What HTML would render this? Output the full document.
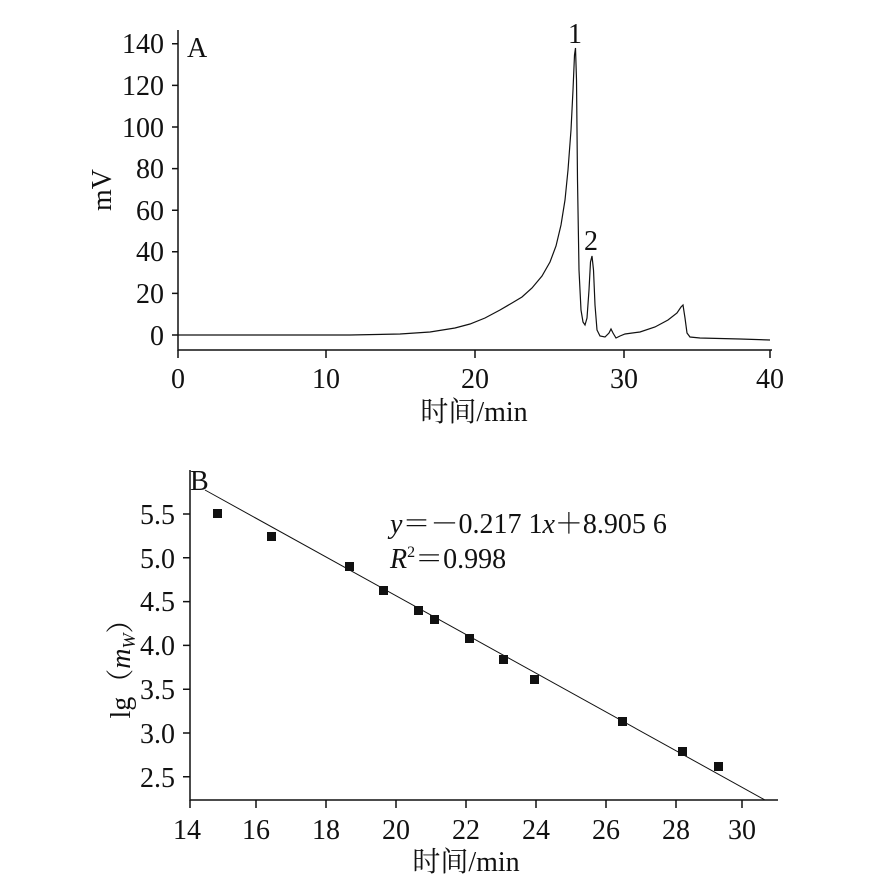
<!DOCTYPE html>
<html><head><meta charset="utf-8"><style>
body{margin:0;background:#fff}
text{font-family:"Liberation Serif","Noto Serif CJK SC",serif;fill:#111}
</style></head><body>
<svg width="882" height="884" xmlns="http://www.w3.org/2000/svg">
<g stroke="#111" stroke-width="1.5" fill="none">
<path d="M178 30V350H772M178 335h-6M178 293.4h-6M178 251.8h-6M178 210.2h-6M178 168.6h-6M178 127h-6M178 85.4h-6M178 43.8h-6"/>
<path d="M178 350v8M326 350v8M475 350v8M624 350v8M770 350v8"/>
<path stroke-width="1.2" d="M178 335L350 335L400 334L430 332L455 328L470 324L485 318L500 310L512 303L522 297L532 288L542 276L550 262L556 246L561 225L565 200L568 170L571 130L573 90L574.5 55L575.5 48L576.5 80L577.5 180L579 270L581 310L583 322L585 325L587 318L589 290L590.5 262L592 256L593.5 270L595 305L597 330L600 336L605 337L609 333L611 329L613 333L616 338L620 336L625 334L640 332L655 327L668 320L677 313L681 307L683 305L685 318L687 333L690 337L700 338L740 339L770 340"/>
<path d="M190 470V800H778M190 514h-7M190 557.8h-7M190 601.6h-7M190 645.4h-7M190 689.2h-7M190 733h-7M190 776.8h-7"/>
<path d="M190 800v8M256 800v8M326 800v8M396 800v8M466 800v8M536 800v8M606 800v8M676 800v8M742 800v8"/>
<path stroke-width="1" d="M205 490L765 800"/>
</g>
<g fill="#111">
<rect x="213" y="509" width="9" height="9"/><rect x="267" y="532" width="9" height="9"/><rect x="345" y="562" width="9" height="9"/><rect x="379" y="586" width="9" height="9"/><rect x="414" y="606" width="9" height="9"/><rect x="430" y="615" width="9" height="9"/><rect x="465" y="634" width="9" height="9"/><rect x="499" y="655" width="9" height="9"/><rect x="530" y="675" width="9" height="9"/><rect x="618" y="717" width="9" height="9"/><rect x="678" y="747" width="9" height="9"/><rect x="714" y="762" width="9" height="9"/>
</g>
<g font-size="28" text-anchor="end">
<text x="164" y="345">0</text><text x="164" y="303">20</text><text x="164" y="261">40</text><text x="164" y="220">60</text><text x="164" y="178">80</text><text x="164" y="137">100</text><text x="164" y="95">120</text><text x="164" y="53">140</text>
<text x="175" y="524">5.5</text><text x="175" y="568">5.0</text><text x="175" y="611">4.5</text><text x="175" y="655">4.0</text><text x="175" y="699">3.5</text><text x="175" y="743">3.0</text><text x="175" y="787">2.5</text>
</g>
<g font-size="28" text-anchor="middle">
<text x="178" y="388">0</text><text x="326" y="388">10</text><text x="475" y="388">20</text><text x="624" y="388">30</text><text x="770" y="388">40</text>
<text x="474" y="421">时间/min</text>
<text x="187" y="839">14</text><text x="256" y="839">16</text><text x="326" y="839">18</text><text x="396" y="839">20</text><text x="466" y="839">22</text><text x="536" y="839">24</text><text x="606" y="839">26</text><text x="676" y="839">28</text><text x="742" y="839">30</text>
<text x="466" y="871">时间/min</text>
<text x="575" y="43">1</text><text x="591" y="250">2</text>
<text transform="translate(111,190) rotate(-90)">mV</text>
<text transform="translate(130,662) rotate(-90)">lg（<tspan font-style="italic">m</tspan><tspan font-style="italic" font-size="18" dy="5">W</tspan><tspan dy="-5">）</tspan></text>
</g>
<g font-size="28">
<text x="187" y="57">A</text><text x="190" y="490">B</text>
<text x="390" y="533"><tspan font-style="italic">y</tspan>＝－0.217 1<tspan font-style="italic">x</tspan>＋8.905 6</text>
<text x="390" y="568"><tspan font-style="italic">R</tspan><tspan font-size="16" dy="-11">2</tspan><tspan dy="11">＝0.998</tspan></text>
</g>
</svg>
</body></html>
